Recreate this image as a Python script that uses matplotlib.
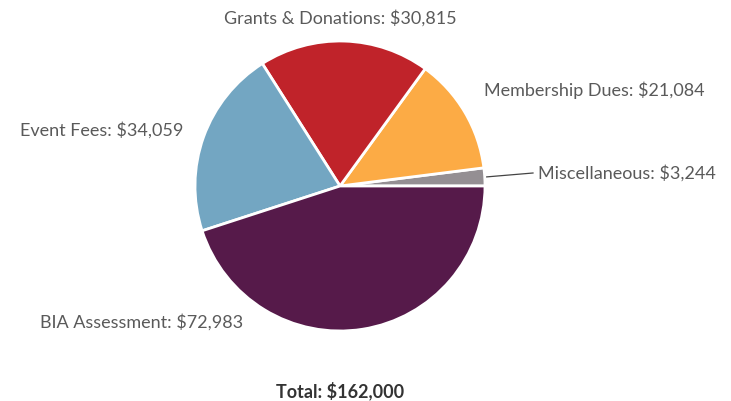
import numpy as np
import matplotlib.pyplot as plt

# Revenue sources
categories = ['Miscellaneous', 'Membership Dues', 'Grants & Donations', 'Event Fees', 'BIA Assessment']
amounts = [3244, 21084, 30815, 34059, 72983]
colors = ['#948f93', '#fcab45', '#c0232a', '#73a6c2', '#561a4a']
total_label = 'Total: $162,000'

plt.rcParams['font.family'] = ['Lato', 'DejaVu Sans']

fig = plt.figure(figsize=(7.31, 4.01), dpi=100)
ax = fig.add_axes([0, 0, 1, 1])

cx, cy, r = 340, 215, 145
wedges, _ = ax.pie(amounts, colors=colors, startangle=0, counterclock=True,
                   center=(cx, cy), radius=r, frame=True,
                   wedgeprops=dict(edgecolor='white', linewidth=2))
ax.set_xlim(0, 731)
ax.set_ylim(0, 401)
ax.set_aspect('equal')
ax.axis('off')

# label placement per slice: (text x, text y, ha)
label_pos = {
    'Miscellaneous': (538, 228, 'left'),
    'Membership Dues': (484, 311, 'left'),
    'Grants & Donations': (340, 383, 'center'),
    'Event Fees': (183, 271, 'right'),
    'BIA Assessment': (40, 79, 'left'),
}

for name, val, w in zip(categories, amounts, wedges):
    tx, ty, ha = label_pos[name]
    ax.text(tx, ty, f'{name}: ${val:,}', ha=ha, va='center',
            fontsize=13, color='#5a5a5a', fontweight='normal')

# connector for the small slice
mid = np.deg2rad((wedges[0].theta1 + wedges[0].theta2) / 2)
ax.plot([cx + r * np.cos(mid) + 2, 533], [cy + r * np.sin(mid), 228],
        color='#444444', linewidth=0.9)

ax.text(340, 10, total_label, ha='center', va='center', fontsize=13,
        fontweight='bold', color='#333333')

fig.savefig('out.png', dpi=100, facecolor='white')
